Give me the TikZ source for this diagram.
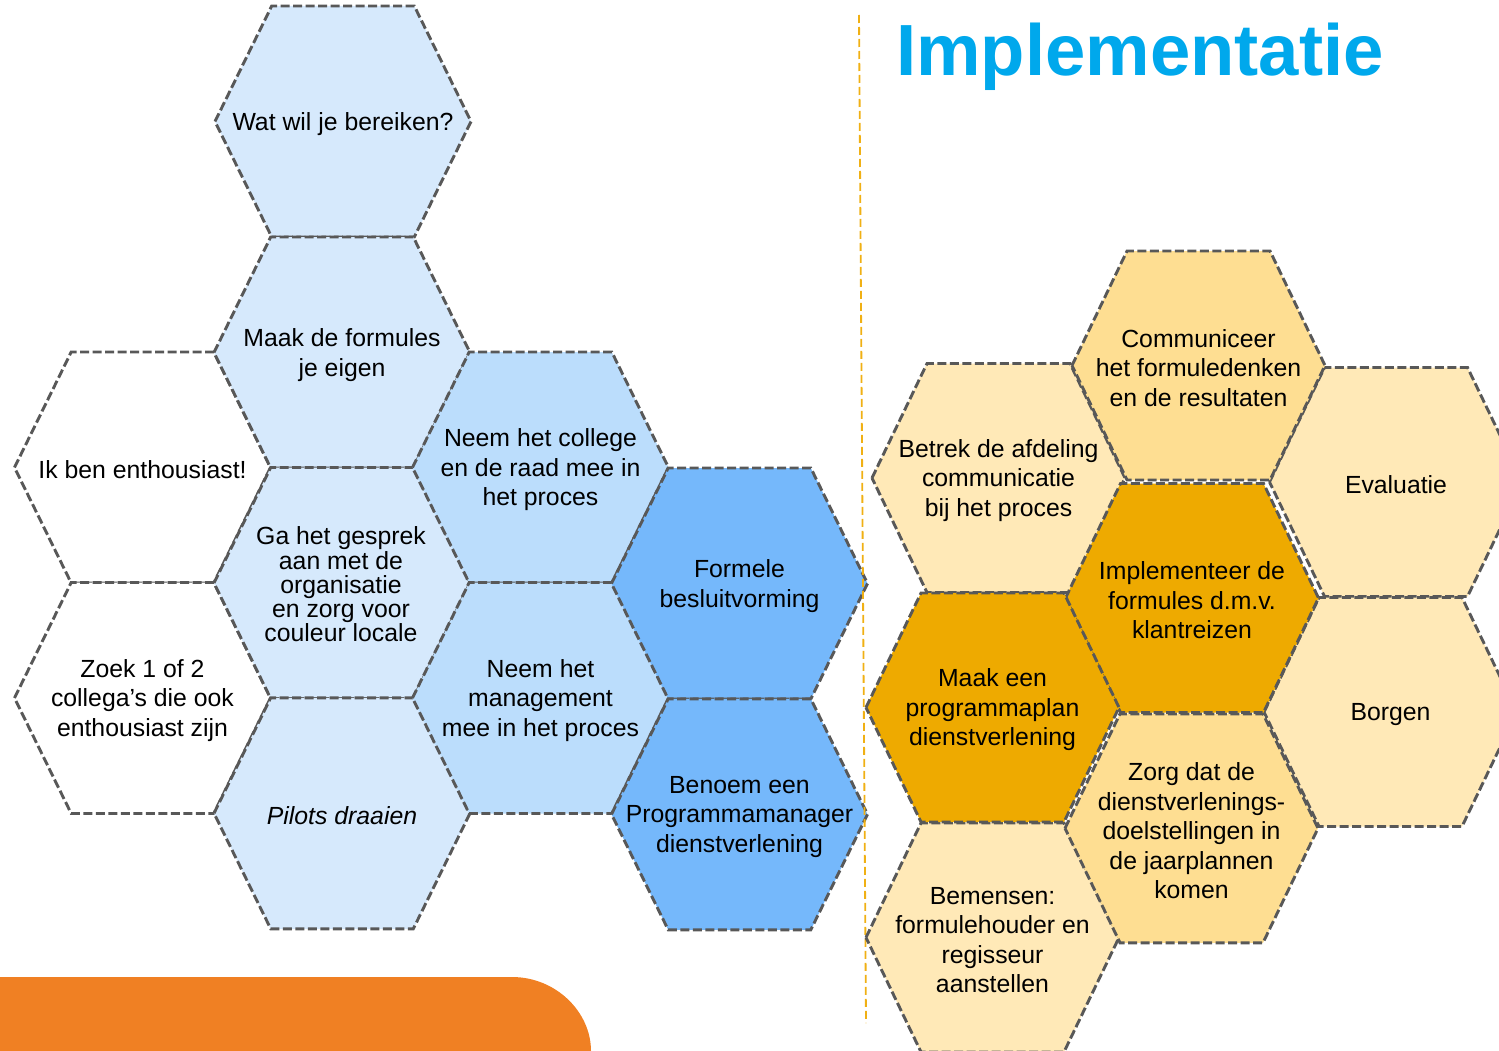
\documentclass[tikz,border=0pt]{standalone}
\usepackage{fontspec}
\setmainfont{Liberation Sans}
\definecolor{lightblue}{RGB}{214,233,252}
\definecolor{midblue}{RGB}{187,221,252}
\definecolor{strongblue}{RGB}{117,184,251}
\definecolor{cream}{RGB}{255,233,183}
\definecolor{midyellow}{RGB}{254,222,146}
\definecolor{darkorange}{RGB}{238,170,0}
\definecolor{barorange}{RGB}{240,128,35}
\definecolor{lineyellow}{RGB}{240,176,20}
\definecolor{titleblue}{RGB}{0,168,236}
\definecolor{edgegray}{RGB}{88,88,88}
\def\hexW{128}
\def\hexw{71.3}
\def\hexH{115.5}
\newcommand{\hexcell}[5]{%
  \draw[hexline, fill=#4] ({#2-\hexW},#3) -- ({#2-\hexw},{#3-\hexH}) -- ({#2+\hexw},{#3-\hexH}) -- ({#2+\hexW},#3) -- ({#2+\hexw},{#3+\hexH}) -- ({#2-\hexw},{#3+\hexH}) -- cycle;
  \node[hextext] (#1) at (#2,#3) {#5};}
\tikzset{
  hexline/.style={draw=edgegray, line width=2.9pt, dash pattern=on 9pt off 3.5pt, line join=miter},
  hextext/.style={align=center, inner sep=0pt, yshift=-2.5pt, font=\fontsize{24.8}{29.5}\selectfont},
  tighttext/.style={font=\fontsize{24.8}{24.2}\selectfont},
  vline/.style={draw=lineyellow, line width=1.8pt, dash pattern=on 8pt off 4pt},
  titlestyle/.style={text=titleblue, inner sep=0pt, font=\fontsize{72.5}{80}\selectfont\bfseries}
}
\begin{document}
\begin{tikzpicture}[x=1pt,y=-1pt]
\useasboundingbox (0,0) rectangle (1499,1051);
% orange bar
\fill[barorange] (0,977) -- (512,977) .. controls (556,977) and (591,1012) .. (591,1051) -- (0,1051) -- cycle;
% left cluster
\hexcell{ik}{142.5}{467.5}{white}{Ik ben enthousiast!}
\hexcell{zoek}{142.5}{698}{white}{Zoek 1 of 2\\collega’s die ook\\enthousiast zijn}
\hexcell{wat}{343}{121.5}{lightblue}{Wat wil je bereiken?}
\hexcell{maak}{342}{352.5}{lightblue}{Maak de formules\\je eigen}
\hexcell{ga}{342}{583}{lightblue}{}
\node[hextext, tighttext] (gatext) at (341,582) {Ga het gesprek\\aan met de\\organisatie\\en zorg voor\\couleur locale};
\hexcell{pilots}{342}{813.3}{lightblue}{\itshape Pilots draaien}
\hexcell{college}{540.5}{467.5}{midblue}{Neem het college\\en de raad mee in\\het proces}
\hexcell{mgmt}{540.5}{698}{midblue}{Neem het\\management\\mee in het proces}
\hexcell{formele}{739.5}{583.5}{strongblue}{Formele\\besluitvorming}
\hexcell{benoem}{739.5}{814.3}{strongblue}{Benoem een\\Programmamanager\\dienstverlening}
% divider
\coordinate (vtop) at (859,15);
\coordinate (vbot) at (866,1023);
\draw[vline] (vtop) -- (vbot);
% title
\node[titlestyle, anchor=base west] (title) at (896,76) {Implementatie};
% right cluster
\def\hexW{126.5}
\def\hexw{71.5}
\def\hexH{114.5}
\hexcell{betrek}{998.5}{478}{cream}{Betrek de afdeling\\communicatie\\bij het proces}
\hexcell{evaluatie}{1396}{482}{cream}{Evaluatie}
\hexcell{borgen}{1390.5}{712}{cream}{Borgen}
\hexcell{bemensen}{992.5}{937.5}{cream}{Bemensen:\\formulehouder en\\regisseur\\aanstellen}
\hexcell{communiceer}{1198.5}{365.5}{midyellow}{Communiceer\\het formuledenken\\en de resultaten}
\hexcell{zorg}{1191.5}{828.3}{midyellow}{Zorg dat de\\dienstverlenings-\\doelstellingen in\\de jaarplannen\\komen}
\hexcell{implementeer}{1192}{598}{darkorange}{Implementeer de\\formules d.m.v.\\klantreizen}
\hexcell{programmaplan}{992.5}{707.5}{darkorange}{Maak een\\programmaplan\\dienstverlening}
\end{tikzpicture}
\end{document}
